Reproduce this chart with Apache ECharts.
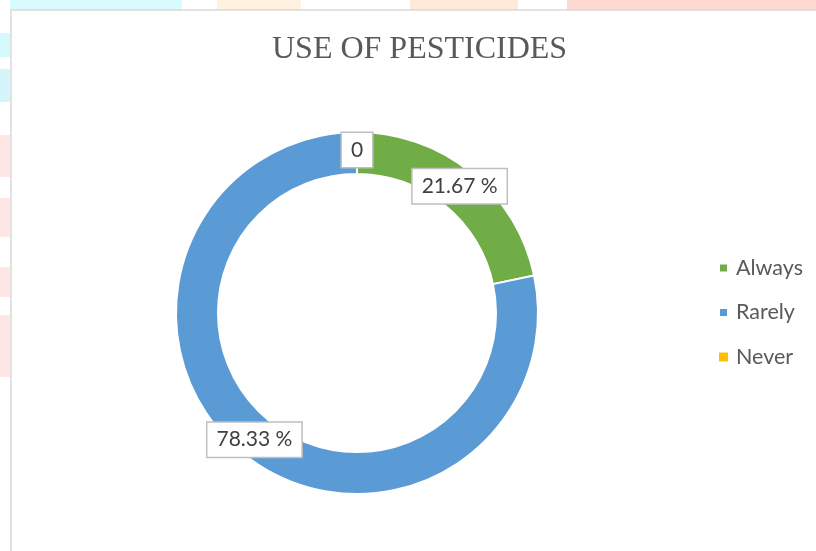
<!DOCTYPE html>
<html>
<head>
<meta charset="utf-8">
<style>
  html, body { margin: 0; padding: 0; background: #ffffff; }
  #chart { width: 816px; height: 551px; }
</style>
<script src="https://cdn.jsdelivr.net/npm/echarts@6/dist/echarts.min.js"></script>
</head>
<body>
<div id="chart"></div>
<script>
// Survey answers: how often pesticides are used (percent of respondents)
const categories = ['Always', 'Rarely', 'Never'];
const shares = [21.67, 78.33, 0];
const colors = ['#70ad47', '#5b9bd5', '#ffc000'];
const chartTitle = 'USE OF PESTICIDES';

const chart = echarts.init(document.getElementById('chart'), null, { renderer: 'canvas' });

// faint page decoration around the chart frame
const decor = [
  { x: 10, y: 0, w: 172, h: 10, c: '#d9fbfd' },
  { x: 217, y: 0, w: 84, h: 10, c: '#fff0e0' },
  { x: 410, y: 0, w: 108, h: 10, c: '#ffeada' },
  { x: 567, y: 0, w: 249, h: 10, c: '#fdd9d2' },
  { x: 0, y: 33, w: 10, h: 24, c: '#d4fafc' },
  { x: 0, y: 69, w: 10, h: 33, c: '#d6f4fb' },
  { x: 0, y: 135, w: 10, h: 42, c: '#fde6e4' },
  { x: 0, y: 198, w: 10, h: 39, c: '#fde6e4' },
  { x: 0, y: 267, w: 10, h: 30, c: '#fde6e4' },
  { x: 0, y: 315, w: 10, h: 62, c: '#fde6e4' }
];

const graphics = decor.map(d => ({
  type: 'rect',
  silent: true,
  z: -10,
  shape: { x: d.x, y: d.y, width: d.w, height: d.h },
  style: { fill: d.c }
}));
graphics.push({
  type: 'rect',
  silent: true,
  z: -5,
  shape: { x: 11, y: 10, width: 830, height: 560 },
  style: { fill: '#ffffff', stroke: '#d9d9d9', lineWidth: 1.5 }
});

chart.setOption({
  animation: false,
  color: colors,
  graphic: graphics,
  title: {
    text: chartTitle,
    left: 272,
    top: 34,
    padding: 0,
    textStyle: {
      fontFamily: '"Liberation Serif", "Times New Roman", serif',
      fontWeight: 'normal',
      fontSize: 32,
      color: '#595959'
    }
  },
  legend: {
    orient: 'vertical',
    left: 718,
    top: 256,
    itemWidth: 9,
    itemHeight: 9,
    itemGap: 20.5,
    icon: 'rect',
    padding: 0,
    data: categories,
    textStyle: {
      fontFamily: 'Lato, "Open Sans", sans-serif',
      fontSize: 21.5,
      lineHeight: 24,
      color: '#595959',
      padding: [0, 0, 0, 3]
    }
  },
  series: [{
    type: 'pie',
    center: [357, 313],
    radius: [139, 181],
    startAngle: 90,
    clockwise: true,
    avoidLabelOverlap: false,
    stillShowZeroSum: true,
    minShowLabelAngle: 0,
    itemStyle: { borderColor: '#ffffff', borderWidth: 2 },
    emphasis: { disabled: true },
    label: {
      show: true,
      position: 'inside',
      formatter: p => (p.value === 0 ? '0' : p.value.toFixed(2) + ' %'),
      fontFamily: 'Lato, "Open Sans", sans-serif',
      fontSize: 21,
      color: '#404040',
      backgroundColor: '#ffffff',
      borderColor: '#bfbfbf',
      borderWidth: 1.5,
      padding: [7, 9, 6, 9]
    },
    labelLine: { show: false },
    data: categories.map((name, i) => ({
      name,
      value: shares[i],
      itemStyle: shares[i] === 0 ? { borderWidth: 0 } : undefined
    }))
  }]
});
</script>
</body>
</html>
